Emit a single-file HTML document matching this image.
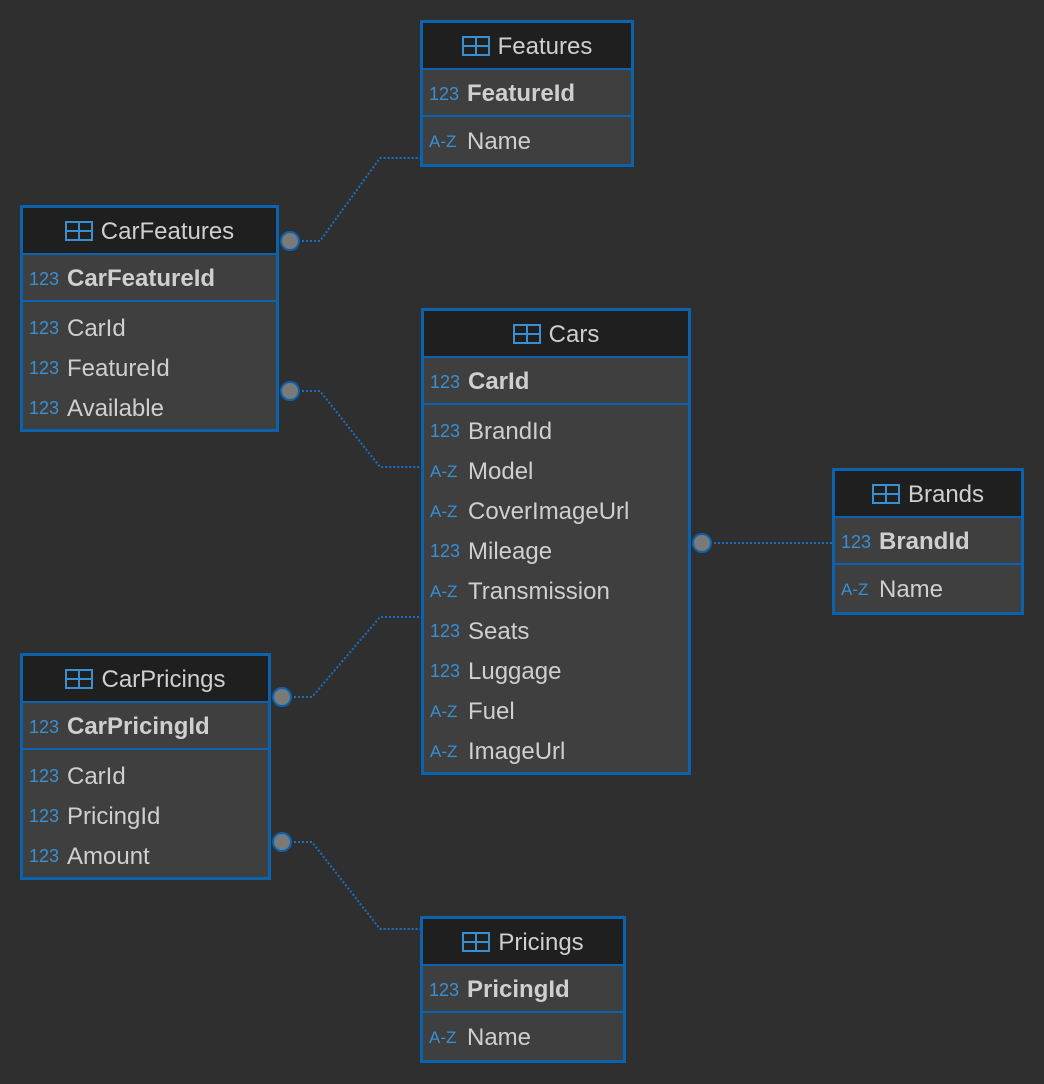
<!DOCTYPE html>
<html><head><meta charset="utf-8"><style>
body{margin:0;width:1044px;height:1084px;background:#2f2f2f;position:relative;overflow:hidden;font-family:"Liberation Sans",sans-serif;}
.t{position:absolute;border:3px solid #0b63b0;background:#3f3f3f;box-sizing:border-box;}
.h{height:47px;background:#1f1f1f;border-bottom:2px solid #0b63b0;color:#cfcfcf;font-size:24px;display:flex;align-items:center;justify-content:center;padding-top:3px;box-sizing:border-box;}
.ic{display:inline-block;width:28px;height:20px;border:2px solid #3a8fd0;box-sizing:border-box;margin-right:8px;position:relative;top:-1px;background:linear-gradient(#3a8fd0,#3a8fd0) center/100% 2px no-repeat,linear-gradient(#3a8fd0,#3a8fd0) center/2px 100% no-repeat;}
.r{height:40px;display:flex;align-items:center;padding-left:6px;padding-top:3px;box-sizing:border-box;color:#cfcfcf;font-size:24px;}
.pk{height:47px;border-bottom:2px solid #0b63b0;font-weight:bold;}
.one{height:47px;}
.k{color:#3a8fd0;font-size:18px;width:38px;display:inline-block;font-weight:normal;}
.az{color:#3a8fd0;font-size:17px;width:38px;display:inline-block;font-weight:normal;}
.g{height:5px}
</style></head><body>
<svg width="1044" height="1084" style="position:absolute;left:0;top:0">
<g fill="none" stroke="#1a6fc0" stroke-width="2" stroke-dasharray="2,2">
<polyline points="290,241 320,241 380,158 420,158"/>
<polyline points="290,391 320,391 380,467 420,467"/>
<polyline points="702,543 832,543"/>
<polyline points="282,697 312,697 380,617 420,617"/>
<polyline points="282,842 312,842 380,929 420,929"/>
</g>
<g fill="#7a7a7a" stroke="#0b63b0" stroke-width="2">
<circle cx="290" cy="241" r="9"/><circle cx="290" cy="391" r="9"/>
<circle cx="702" cy="543" r="9"/><circle cx="282" cy="697" r="9"/><circle cx="282" cy="842" r="9"/>
</g></svg>

<div class="t" style="left:420px;top:20px;width:214px;height:147px">
<div class="h"><span class="ic"></span>Features</div>
<div class="r pk"><span class="k">123</span>FeatureId</div>
<div class="r one"><span class="az">A-Z</span>Name</div></div>

<div class="t" style="left:20px;top:205px;width:259px;height:227px">
<div class="h"><span class="ic"></span>CarFeatures</div>
<div class="r pk"><span class="k">123</span>CarFeatureId</div><div class="g"></div>
<div class="r"><span class="k">123</span>CarId</div>
<div class="r"><span class="k">123</span>FeatureId</div>
<div class="r"><span class="k">123</span>Available</div></div>

<div class="t" style="left:421px;top:308px;width:270px;height:467px">
<div class="h"><span class="ic"></span>Cars</div>
<div class="r pk"><span class="k">123</span>CarId</div><div class="g"></div>
<div class="r"><span class="k">123</span>BrandId</div>
<div class="r"><span class="az">A-Z</span>Model</div>
<div class="r"><span class="az">A-Z</span>CoverImageUrl</div>
<div class="r"><span class="k">123</span>Mileage</div>
<div class="r"><span class="az">A-Z</span>Transmission</div>
<div class="r"><span class="k">123</span>Seats</div>
<div class="r"><span class="k">123</span>Luggage</div>
<div class="r"><span class="az">A-Z</span>Fuel</div>
<div class="r"><span class="az">A-Z</span>ImageUrl</div></div>

<div class="t" style="left:832px;top:468px;width:192px;height:147px">
<div class="h"><span class="ic"></span>Brands</div>
<div class="r pk"><span class="k">123</span>BrandId</div>
<div class="r one"><span class="az">A-Z</span>Name</div></div>

<div class="t" style="left:20px;top:653px;width:251px;height:227px">
<div class="h"><span class="ic"></span>CarPricings</div>
<div class="r pk"><span class="k">123</span>CarPricingId</div><div class="g"></div>
<div class="r"><span class="k">123</span>CarId</div>
<div class="r"><span class="k">123</span>PricingId</div>
<div class="r"><span class="k">123</span>Amount</div></div>

<div class="t" style="left:420px;top:916px;width:206px;height:147px">
<div class="h"><span class="ic"></span>Pricings</div>
<div class="r pk"><span class="k">123</span>PricingId</div>
<div class="r one"><span class="az">A-Z</span>Name</div></div>
</body></html>
